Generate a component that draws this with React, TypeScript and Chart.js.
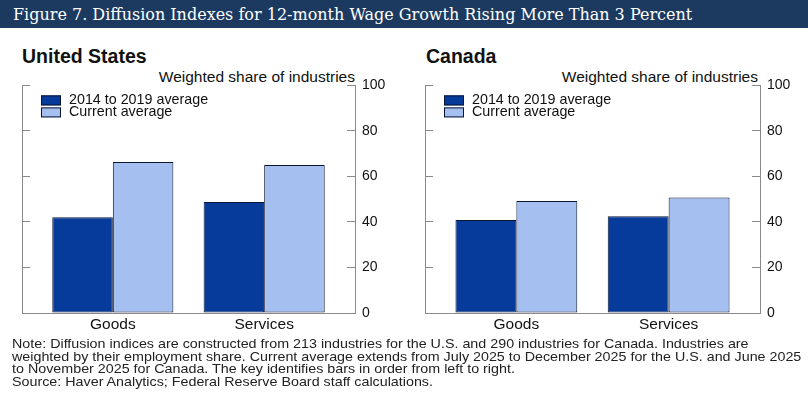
import React, { useEffect, useRef } from 'react';
import { Chart, registerables } from 'chart.js';

Chart.register(...registerables);

const categories = ['Goods', 'Services'];
const seriesLabels = ['2014 to 2019 average', 'Current average'];
const usBaseline = [42.1, 48.8];
const usCurrent = [66.3, 65.0];
const caBaseline = [40.9, 42.5];
const caCurrent = [49.2, 50.7];
const yMin = 0;
const yMax = 100;
const yStep = 20;

const DARK = '#063a9b';
const LIGHT = '#a5bff0';
const OUTLINE = '#0b1633';
const AXIS = '#8a8a8a';
const TEXT = '#111111';
const FONT = "'Liberation Sans', Arial, sans-serif";

const insetLegend = {
  id: 'insetLegend',
  afterDraw(chart: any, _args: any, opts: any) {
    const { ctx, chartArea } = chart;
    const x0 = chartArea.left + opts.dx;
    let y = chartArea.top + opts.dy;
    ctx.save();
    ctx.font = `${opts.size}px ${FONT}`;
    ctx.textBaseline = 'middle';
    ctx.textAlign = 'left';
    chart.data.datasets.forEach((ds: any) => {
      ctx.fillStyle = ds.backgroundColor;
      ctx.fillRect(x0, y, 20, 10);
      ctx.strokeStyle = OUTLINE;
      ctx.lineWidth = 1;
      ctx.strokeRect(x0 + 0.5, y + 0.5, 19, 9);
      ctx.fillStyle = TEXT;
      ctx.fillText(ds.label, x0 + 28, y + 5);
      y += opts.step;
    });
    ctx.restore();
  },
};

function Panel(props: {
  baseline: number[];
  current: number[];
  width: number;
  height: number;
  leftPad: number;
  rightWidth: number;
}) {
  const ref = useRef<HTMLCanvasElement | null>(null);
  useEffect(() => {
    if (!ref.current) return;
    const tickFont = { family: FONT, size: 14 };
    const chart = new Chart(ref.current, {
      type: 'bar',
      data: {
        datasets: [
          {
            label: seriesLabels[0],
            data: props.baseline.map((v, i) => ({ x: i, y: v })),
            backgroundColor: DARK,
            borderColor: OUTLINE,
            borderWidth: 1,
            borderSkipped: false,
          },
          {
            label: seriesLabels[1],
            data: props.current.map((v, i) => ({ x: i, y: v })),
            backgroundColor: LIGHT,
            borderColor: OUTLINE,
            borderWidth: 1,
            borderSkipped: false,
          },
        ],
      },
      options: {
        responsive: false,
        animation: false,
        devicePixelRatio: 1,
        layout: { padding: { left: props.leftPad, top: 14, right: 0, bottom: 0 } },
        datasets: { bar: { categoryPercentage: 0.8, barPercentage: 1.0 } },
        plugins: {
          legend: { display: false },
          tooltip: { enabled: false },
          insetLegend: { dx: 19, dy: 10, step: 12, size: 14.3 },
        } as any,
        scales: {
          x: {
            type: 'linear',
            position: 'bottom',
            offset: false,
            min: -0.6,
            max: 1.6,
            grid: { display: false, drawTicks: false },
            border: { display: true, color: AXIS },
            afterBuildTicks: (s: any) => {
              s.ticks = categories.map((_, i) => ({ value: i }));
            },
            afterFit: (s: any) => {
              s.height = 27;
            },
            ticks: {
              callback: (v: any) => categories[v] ?? '',
              font: { family: FONT, size: 15.5 },
              color: TEXT,
              padding: 2,
              autoSkip: false,
              maxRotation: 0,
            },
          },
          y: {
            position: 'right',
            min: yMin,
            max: yMax,
            ticks: { stepSize: yStep, padding: 15, font: tickFont, color: TEXT },
            grid: { drawOnChartArea: false, tickLength: -8, color: AXIS },
            border: { color: AXIS },
            afterFit: (s: any) => {
              s.width = props.rightWidth;
            },
          },
          yL: {
            position: 'left',
            min: yMin,
            max: yMax,
            ticks: { display: false, stepSize: yStep },
            grid: { drawOnChartArea: false, tickLength: -8, color: AXIS },
            border: { color: AXIS },
            afterFit: (s: any) => {
              s.width = 0;
            },
          },
        } as any,
      },
      plugins: [insetLegend],
    });
    return () => chart.destroy();
  }, []);
  return <canvas ref={ref} width={props.width} height={props.height} style={{ display: 'block' }} />;
}

export default function App() {
  useEffect(() => {
    document.body.style.margin = '0';
  }, []);
  const sans = FONT;
  return (
    <div style={{ position: 'relative', width: 808, height: 399, background: '#fff', overflow: 'hidden' }}>
      <div
        style={{
          position: 'absolute',
          left: 0,
          top: 0,
          width: 808,
          height: 28,
          background: '#1c3a5f',
          color: '#fff',
          fontFamily: "'DejaVu Serif', serif",
          fontSize: 16,
          lineHeight: '29px',
          paddingLeft: 13,
          boxSizing: 'border-box',
          whiteSpace: 'nowrap',
        }}
      >
        Figure 7. Diffusion Indexes for 12-month Wage Growth Rising More Than 3 Percent
      </div>
      <div style={{ position: 'absolute', left: 22, top: 46, fontFamily: sans, fontWeight: 'bold', fontSize: 19.5, lineHeight: '20px', color: TEXT }}>
        United States
      </div>
      <div style={{ position: 'absolute', left: 426, top: 46, fontFamily: sans, fontWeight: 'bold', fontSize: 19.5, lineHeight: '20px', color: TEXT }}>
        Canada
      </div>
      <div style={{ position: 'absolute', right: 808 - 355, top: 68, fontFamily: sans, fontSize: 15.5, lineHeight: '18px', color: TEXT, whiteSpace: 'nowrap' }}>
        Weighted share of industries
      </div>
      <div style={{ position: 'absolute', right: 808 - 758, top: 68, fontFamily: sans, fontSize: 15.5, lineHeight: '18px', color: TEXT, whiteSpace: 'nowrap' }}>
        Weighted share of industries
      </div>
      <div style={{ position: 'absolute', left: 0, top: 62 }}>
        <Panel baseline={usBaseline} current={usCurrent} width={400} height={278} leftPad={22} rightWidth={45} />
      </div>
      <div style={{ position: 'absolute', left: 400, top: 62 }}>
        <Panel baseline={caBaseline} current={caCurrent} width={408} height={278} leftPad={25} rightWidth={48} />
      </div>
      <div
        style={{
          position: 'absolute',
          left: 12,
          top: 338,
          fontFamily: sans,
          fontSize: 13,
          lineHeight: '12.6px',
          color: '#222',
          whiteSpace: 'nowrap',
          transform: 'scaleX(1.1)',
          transformOrigin: 'left top',
        }}
      >
        Note: Diffusion indices are constructed from 213 industries for the U.S. and 290 industries for Canada. Industries are
        <br />
        weighted by their employment share. Current average extends from July 2025 to December 2025 for the U.S. and June 2025
        <br />
        to November 2025 for Canada. The key identifies bars in order from left to right.
        <br />
        Source: Haver Analytics; Federal Reserve Board staff calculations.
      </div>
    </div>
  );
}
